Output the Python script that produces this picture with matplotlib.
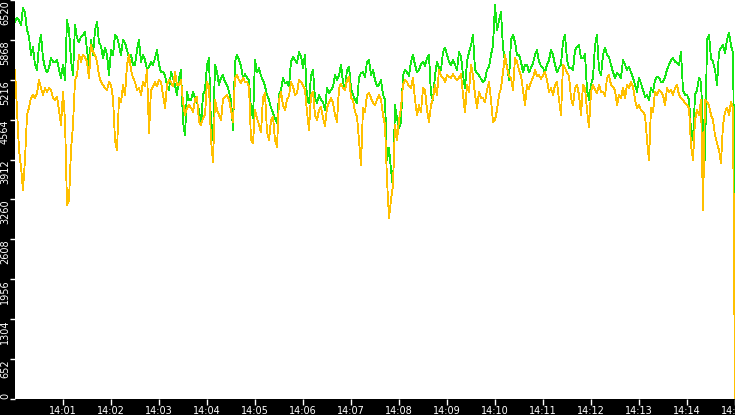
import matplotlib.pyplot as plt
import matplotlib.dates as mdates
import pandas as pd

# samples on the 5 s grid, 14:00:00 -> 14:15:00
green_on = [6160, 6190, 6390, 6030, 5620, 5460, 5780, 5570, 5340, 5570, 5510, 5380, 5460, 6190, 5540, 6110,
            5830, 5950, 5700, 5870, 6030, 5830, 5570, 5620, 5700, 5950, 5780, 5870, 5700, 5620, 5460,
            5870, 5620, 5380, 5510, 5570, 5460, 5340, 5130, 5340, 5130, 5250, 4530, 5020, 4890, 4920,
            4720, 4970, 5460, 4480, 5460, 5130, 5290, 5130, 4890, 5510, 5540, 5250, 5250, 4720, 5540,
            5410, 5210, 4970, 4760, 4590, 4970, 5250, 5180, 5510, 5540, 5670, 5410, 4890, 5290, 4920,
            4970, 4850, 5080, 5050, 5290, 5290, 5180, 5380, 5080, 4890, 5250, 5340, 5510, 5290, 5210,
            5130, 4970, 3910, 3740, 4800, 4430, 5290, 5340, 5510, 5460, 5380, 5510, 5570, 4970, 5290,
            5410, 5670, 5620, 5460, 5460, 5670, 5290, 5510, 5780, 5380, 5290, 5180, 5380, 5620, 6440,
            6190, 5740, 5460, 5870, 5830, 5620, 5340, 5460, 5410, 5620, 5510, 5410, 5460, 5700, 5460,
            5410, 5830, 5540, 5410, 5700, 5780, 5570, 5050, 5130, 5780, 5380, 5620, 5620, 5460, 5250,
            5290, 5540, 5380, 5340, 5130, 5250, 5050, 4970, 5080, 5210, 5250, 5180, 5380, 5540, 5510,
            5460, 5050, 4970, 4400, 4970, 5250, 4400, 5870, 5570, 5380, 5670, 5780, 5870, 5780, 2790]

# samples halfway between (xx:02.5, xx:07.5 ...)
green_mid = [6230, 6110, 6310, 5920, 5750, 5380, 5950, 5410, 5410, 5510, 5540, 5250, 5210, 6030, 5290, 5900,
             5920, 6000, 5460, 5620, 6160, 5770, 5740, 5290, 5620, 5920, 5620, 5820, 5570, 5460, 5700,
             5510, 5540, 5430, 5460, 5700, 5340, 5290, 5050, 5250, 4970, 5380, 4310, 4890, 5020, 4850,
             4480, 5050, 5570, 4230, 5340, 5250, 5180, 5020, 4400, 5620, 5440, 5310, 5210, 4590, 5340,
             5280, 5110, 4890, 4670, 4510, 5050, 5160, 5110, 5590, 5490, 5600, 5620, 4840, 5380, 4840,
             4890, 4720, 5000, 5100, 5210, 5460, 5050, 5430, 4970, 4840, 5330, 5260, 5540, 5380, 5110,
             5210, 4890, 4100, 3450, 4590, 4530, 5380, 5280, 5620, 5340, 5470, 5440, 5620, 4890, 5510,
             5380, 5740, 5510, 5540, 5380, 5600, 5080, 5670, 5950, 5330, 5230, 5210, 5430, 5780, 6030,
             6320, 5510, 5210, 5950, 5620, 5510, 5460, 5340, 5490, 5700, 5440, 5340, 5540, 5620, 5340,
             5470, 5950, 5410, 5380, 5750, 5570, 5640, 4890, 5250, 5950, 5290, 5740, 5590, 5340, 5330,
             5250, 5460, 5430, 5250, 5020, 5160, 4940, 4890, 5020, 5260, 5180, 5260, 5460, 5570, 5490,
             5670, 4970, 4890, 4230, 5050, 5180, 3910, 5950, 5510, 5130, 5740, 5650, 5980, 5650]

orange_on = [5380, 4070, 3420, 4640, 4920, 4920, 5210, 4970, 5020, 5050, 4890, 4720, 5020, 3170, 4070, 5210,
             5620, 5620, 5510, 5780, 5620, 5290, 5130, 5050, 5130, 4230, 4920, 5130, 5460, 5380, 5180,
             5080, 5180, 5380, 5050, 5180, 5210, 4970, 5130, 5180, 5340, 5130, 4850, 4760, 4760, 4890,
             4530, 4590, 5180, 4230, 4890, 4640, 4890, 4970, 4720, 5250, 5210, 5250, 5180, 4230, 4720,
             4480, 4920, 4360, 4560, 4230, 4890, 4800, 4890, 5180, 4970, 5210, 5130, 4690, 4970, 4640,
             4720, 4590, 4760, 4920, 4640, 5080, 5080, 5210, 4920, 4690, 4230, 4760, 4970, 4920, 4800,
             4970, 4640, 3580, 3250, 4480, 4560, 5130, 5180, 5080, 4890, 4800, 5080, 4720, 4800, 5130,
             5380, 5250, 5290, 5250, 5250, 5250, 4970, 5130, 5460, 4970, 5020, 4920, 5050, 4890, 4560,
             4970, 5340, 5410, 5250, 5570, 5380, 5050, 5130, 5180, 5380, 5290, 5290, 5210, 5080, 5130,
             4890, 5460, 5340, 4920, 5080, 4970, 5130, 4720, 5020, 5050, 5130, 5020, 5250, 5130, 5050,
             4970, 5080, 5130, 5180, 4890, 4800, 4690, 4230, 4760, 5020, 5050, 4970, 5080, 5050, 5080,
             4970, 4890, 4800, 4150, 4560, 4640, 3090, 4850, 4640, 4310, 4070, 4480, 4760, 4850, 0]

orange_mid = [4720, 3790, 3910, 4760, 4970, 5000, 5080, 5080, 5080, 4920, 4940, 4480, 4560, 3250, 4480, 5290,
              5510, 5590, 5250, 5670, 5510, 5180, 5080, 5180, 4920, 4070, 4850, 4970, 5620, 5250, 5050,
              4970, 5110, 4350, 5100, 5110, 5180, 4760, 5210, 5110, 5130, 5210, 4640, 4800, 4690, 4940,
              4480, 4640, 5110, 3870, 4720, 4560, 4940, 4890, 4530, 5290, 5160, 5180, 5110, 4180, 4590,
              4360, 5000, 4230, 4610, 4120, 5020, 4720, 4950, 5110, 5000, 5180, 5050, 4400, 5020, 4560,
              4770, 4460, 4850, 4840, 4530, 5150, 5050, 5260, 4890, 4620, 3820, 4690, 5000, 4840, 4890,
              4890, 4480, 2960, 3500, 4230, 4760, 5210, 5110, 5250, 4640, 4690, 5050, 4530, 4920, 4970,
              5280, 5180, 5260, 5310, 5210, 5310, 4690, 5020, 5290, 4760, 4920, 4850, 5180, 4530, 4720,
              5080, 5620, 5280, 5050, 5510, 5280, 4800, 5070, 5250, 5280, 5230, 5340, 5020, 4970, 5180,
              4640, 5410, 5280, 4800, 5130, 4640, 5080, 4440, 5130, 5000, 5020, 4950, 5290, 5100, 4800,
              4920, 4920, 5080, 5110, 4760, 4720, 4640, 3910, 4690, 4970, 5020, 4800, 5020, 4970, 5130,
              4920, 4840, 4760, 3910, 4720, 4890, 4890, 4800, 4560, 4180, 3860, 4690, 4640, 4760]

y_ticks = [0, 652, 1304, 1956, 2608, 3260, 3912, 4564, 5216, 5868, 6520]

t_on = pd.date_range("2024-01-01 14:00:00", periods=len(green_on), freq="5s")
t_mid = t_on[:-1] + pd.Timedelta(milliseconds=2500)

green = pd.concat([pd.Series(green_on, index=t_on), pd.Series(green_mid, index=t_mid)]).sort_index()
orange = pd.concat([pd.Series(orange_on, index=t_on), pd.Series(orange_mid, index=t_mid)]).sort_index()

fig = plt.figure(figsize=(7.35, 4.15), dpi=100, facecolor="black")
ax = fig.add_axes([15 / 735, 16 / 415, 720 / 735, 399 / 415])
ax.set_facecolor("white")

ax.plot(green.index, green.values, color="#14e614", lw=0.6, antialiased=False)
ax.plot(orange.index, orange.values, color="#ffc000", lw=0.6, antialiased=False)

ax.set_xlim(t_on[0], t_on[-1])
ax.set_ylim(0, 6520)
for s in ax.spines.values():
    s.set_visible(False)

ax.xaxis.set_major_locator(mdates.MinuteLocator(byminute=range(1, 16)))
ax.xaxis.set_major_formatter(mdates.DateFormatter("%H:%M"))
ax.set_yticks(y_ticks)
ax.set_yticklabels([str(v) for v in y_ticks])
ax.tick_params(axis="x", colors="white", labelsize=7, length=4, width=1, pad=1)
ax.tick_params(axis="y", colors="white", labelsize=7, length=3.6, width=1, pad=0)
for lab in ax.get_yticklabels():
    lab.set_rotation(90)
    lab.set_va("top")
ax.get_yticklabels()[0].set_va("bottom")

fig.savefig("out.png", dpi=100, facecolor="black")
